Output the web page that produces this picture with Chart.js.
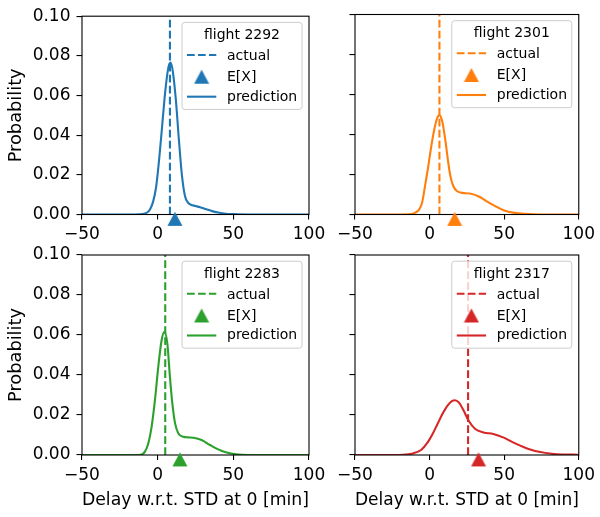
<!DOCTYPE html>
<html>
<head>
<meta charset="utf-8">
<script src="https://cdn.jsdelivr.net/npm/chart.js@4/dist/chart.umd.min.js"></script>
<style>
html, body { margin: 0; padding: 0; background: #ffffff; }
#wrap { position: relative; width: 600px; height: 517px; overflow: hidden; }
#wrap canvas { position: absolute; left: 0; top: 0; }
</style>
</head>
<body>
<div id="wrap">
  <canvas id="c0" width="600" height="517"></canvas>
  <canvas id="c1" width="600" height="517"></canvas>
  <canvas id="c2" width="600" height="517"></canvas>
  <canvas id="c3" width="600" height="517"></canvas>
</div>
<script>
// ---------------- data ----------------
const flightIds = ['2292', '2301', '2283', '2317'];
const seriesColors = ['#1f77b4', '#ff7f0e', '#2ca02c', '#d62728'];
const actualDelay = [8.1, 6.6, 5.0, 25.8];
const expectedDelay = [11.4, 16.8, 14.7, 32.8];
const markerY = -0.0022;

const delay2292 = [-50, -15, -10, -7, -5, -3, -1, 1, 3, 5, 7, 8.5, 10, 12, 14, 16, 18, 20, 22, 25, 28, 32, 36, 40, 45, 50, 60, 100];
const prob2292  = [0, 0, 0.0002, 0.001, 0.0027, 0.0065, 0.014, 0.028, 0.045, 0.062, 0.0738, 0.0766, 0.0722, 0.058, 0.038, 0.020, 0.0095, 0.006, 0.0049, 0.0043, 0.0037, 0.0027, 0.0017, 0.001, 0.0004, 0.0002, 0, 0];

const delay2301 = [-50, -20, -12, -9, -7, -5, -3, -1, 1, 3, 5, 6.6, 8.5, 10.5, 12.5, 14, 16, 18.5, 22, 27, 33, 38, 44, 50, 57, 64, 75, 100];
const prob2301  = [0, 0, 0.0002, 0.0012, 0.0025, 0.006, 0.0145, 0.0235, 0.0335, 0.042, 0.048, 0.0497, 0.0465, 0.0375, 0.026, 0.019, 0.014, 0.0116, 0.0108, 0.0105, 0.009, 0.0067, 0.0042, 0.002, 0.0008, 0.0003, 0, 0];

const delay2283 = [-50, -15, -10.6, -8.4, -6.2, -4, -1.8, 0.4, 2.6, 4.4, 6.4, 8.1, 9.7, 11.5, 13.7, 17, 20, 23.6, 29, 34.6, 40, 45.6, 52, 60, 100];
const prob2283  = [0, 0, 0.0003, 0.0017, 0.0058, 0.0141, 0.0274, 0.0441, 0.0574, 0.0615, 0.0557, 0.0391, 0.0258, 0.0158, 0.0108, 0.0091, 0.0088, 0.0086, 0.0075, 0.005, 0.0028, 0.0012, 0.0003, 0, 0];

const delay2317 = [-50, -25, -17.8, -11.2, -5.7, -1.3, 2, 5.3, 8.6, 11.9, 15.2, 17, 19.6, 22.9, 26.2, 30.6, 36.1, 42.7, 49.3, 55.9, 63.7, 72.5, 83.5, 96.7, 100];
const prob2317  = [0, 0, 0.0001, 0.0008, 0.0025, 0.0063, 0.0105, 0.0155, 0.0205, 0.0246, 0.0271, 0.0274, 0.0263, 0.0221, 0.0171, 0.013, 0.0113, 0.0105, 0.0088, 0.0063, 0.0038, 0.0017, 0.0005, 0.0002, 0.0001];

const delayGrids = [delay2292, delay2301, delay2283, delay2317];
const probSeries = [prob2292, prob2301, prob2283, prob2317];

const xTickValues = [-50, 0, 50, 100];
const yTickValues = [0, 0.02, 0.04, 0.06, 0.08, 0.10];
const xAxisTitle = 'Delay w.r.t. STD at 0 [min]';
const yAxisTitle = 'Probability';

// ---------------- layout / style ----------------
const FONT = 'DejaVu Sans';
const plotAreas = [
  [82, 14.5, 309, 214.5],
  [355, 14.5, 581.3, 214.5],
  [82, 255, 309, 455],
  [355, 255, 581.3, 455]
];

function triangleImage(color) {
  const c = document.createElement('canvas');
  c.width = 16; c.height = 16;
  const g = c.getContext('2d');
  g.fillStyle = color;
  g.beginPath();
  g.moveTo(8, 1);
  g.lineTo(15.5, 15);
  g.lineTo(0.5, 15);
  g.closePath();
  g.fill();
  return c;
}

const spinePlugin = {
  id: 'spines',
  afterDatasetDraw(chart, args) {
    if (args.index !== 1) return;
    const a = chart.chartArea, ctx = chart.ctx;
    ctx.save();
    ctx.strokeStyle = '#000000';
    ctx.lineWidth = 1.1;
    ctx.strokeRect(a.left, a.top, a.right - a.left, a.bottom - a.top);
    ctx.restore();
  }
};

const legendPlugin = {
  id: 'flightLegend',
  afterDraw(chart, args, opts) {
    const a = chart.chartArea, ctx = chart.ctx, ds = chart.data.datasets;
    const w = 120, h = 87, r = 2.8;
    const x0 = a.right - 7 - w, y0 = a.top + 6.2;
    ctx.save();
    ctx.beginPath();
    ctx.moveTo(x0 + r, y0);
    ctx.lineTo(x0 + w - r, y0); ctx.arcTo(x0 + w, y0, x0 + w, y0 + r, r);
    ctx.lineTo(x0 + w, y0 + h - r); ctx.arcTo(x0 + w, y0 + h, x0 + w - r, y0 + h, r);
    ctx.lineTo(x0 + r, y0 + h); ctx.arcTo(x0, y0 + h, x0, y0 + h - r, r);
    ctx.lineTo(x0, y0 + r); ctx.arcTo(x0, y0, x0 + r, y0, r);
    ctx.closePath();
    ctx.fillStyle = 'rgba(255,255,255,0.8)';
    ctx.fill();
    ctx.strokeStyle = '#cccccc';
    ctx.lineWidth = 1;
    ctx.stroke();

    ctx.font = '14px "' + FONT + '"';
    ctx.fillStyle = '#000000';
    ctx.textBaseline = 'middle';
    ctx.textAlign = 'center';
    ctx.fillText(opts.title, x0 + w / 2, y0 + 12.8);
    ctx.textAlign = 'left';
    const rows = [
      { d: ds[1], y: 32.6, ty: 33.8 },
      { d: ds[0], y: 54.3, ty: 55.0 },
      { d: ds[2], y: 74.3, ty: 74.5 }
    ];
    rows.forEach(row => {
      const cy = y0 + row.y;
      if (row.d.showLine === false) {
        const img = row.d.pointStyle;
        ctx.drawImage(img, x0 + 19.6 - img.width / 2, cy - img.height / 2);
      } else {
        ctx.beginPath();
        ctx.strokeStyle = row.d.borderColor;
        ctx.lineWidth = row.d.borderWidth;
        ctx.setLineDash(row.d.borderDash || []);
        ctx.moveTo(x0 + 5, cy);
        ctx.lineTo(x0 + 34.3, cy);
        ctx.stroke();
        ctx.setLineDash([]);
      }
      ctx.fillStyle = '#000000';
      ctx.fillText(row.d.label, x0 + 45, y0 + row.ty);
    });
    ctx.restore();
  }
};

const fmtX = v => (v < 0 ? '\u2212' + Math.abs(v) : String(v));

flightIds.forEach((id, i) => {
  const [L, T, R, B] = plotAreas[i];
  const isLeft = i % 2 === 0;
  const isBottom = i >= 2;
  const padL = isLeft ? 0 : L - 12;
  const color = seriesColors[i];
  const curve = delayGrids[i].map((x, k) => ({ x: x, y: probSeries[i][k] }));

  new Chart(document.getElementById('c' + i), {
    type: 'line',
    data: {
      datasets: [
        {
          label: 'E[X]',
          data: [{ x: expectedDelay[i], y: markerY }],
          showLine: false,
          pointStyle: triangleImage(color),
          pointRadius: 8,
          pointBorderWidth: 0,
          borderColor: color,
          backgroundColor: color,
          clip: false
        },
        {
          label: 'actual',
          data: [{ x: actualDelay[i], y: 0 }, { x: actualDelay[i], y: 0.1 }],
          borderColor: color,
          borderWidth: 2.1,
          borderDash: [7.7, 3.3],
          pointRadius: 0,
          fill: false
        },
        {
          label: 'prediction',
          data: curve,
          borderColor: color,
          borderWidth: 2.1,
          pointRadius: 0,
          cubicInterpolationMode: 'monotone',
          fill: false
        }
      ]
    },
    options: {
      responsive: false,
      animation: false,
      devicePixelRatio: 1,
      events: [],
      layout: { padding: { left: padL, top: T, right: 600 - R, bottom: 0 } },
      plugins: {
        legend: { display: false },
        tooltip: { enabled: false },
        flightLegend: { title: 'flight ' + id }
      },
      scales: {
        x: {
          type: 'linear',
          min: -50,
          max: 100,
          afterBuildTicks: s => { s.ticks = xTickValues.map(v => ({ value: v })); },
          afterFit: s => { s.height = 517 - B; },
          ticks: {
            callback: v => fmtX(v),
            font: { family: FONT, size: 17 },
            color: '#000000',
            padding: 5,
            maxRotation: 0,
            autoSkip: false
          },
          grid: { drawOnChartArea: false, drawTicks: true, tickLength: 5, color: '#000000', lineWidth: 1.1 },
          border: { display: false },
          title: {
            display: isBottom,
            text: xAxisTitle,
            font: { family: FONT, size: 17.8 },
            color: '#000000',
            padding: { top: 0, bottom: 6.3 }
          }
        },
        y: {
          type: 'linear',
          min: 0,
          max: 0.1,
          afterBuildTicks: s => { s.ticks = yTickValues.map(v => ({ value: v })); },
          afterFit: s => { s.width = L - padL; },
          ticks: {
            display: isLeft,
            callback: v => Number(v).toFixed(2),
            font: { family: FONT, size: 17 },
            color: '#000000',
            padding: 6
          },
          grid: { drawOnChartArea: false, drawTicks: true, tickLength: 5.5, color: '#000000', lineWidth: 1.1 },
          border: { display: false },
          title: {
            display: isLeft,
            text: yAxisTitle,
            font: { family: FONT, size: 17.8 },
            color: '#000000',
            padding: { top: 5.3, bottom: 0 }
          }
        }
      }
    },
    plugins: [spinePlugin, legendPlugin]
  });
});
</script>
</body>
</html>
